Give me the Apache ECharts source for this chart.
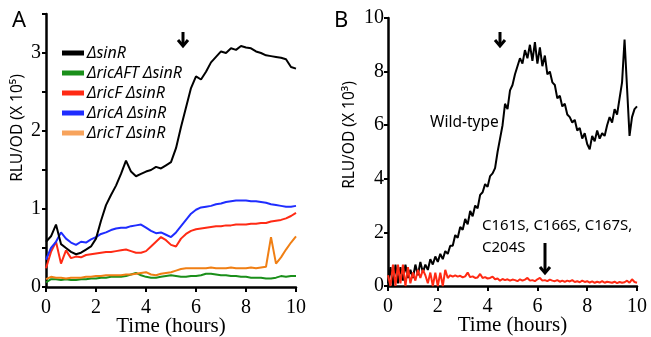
<!DOCTYPE html>
<html>
<head>
<meta charset="utf-8">
<script src="https://cdn.jsdelivr.net/npm/echarts@6/dist/echarts.min.js"></script>
<style>
  html, body { margin: 0; padding: 0; background: #fff; }
  #main { width: 651px; height: 337px; }
</style>
</head>
<body>
<div id="main"></div>
<script>
// Panel A: time (hours), sampled every 0.2 h
var timesA = [0, 0.2, 0.4, 0.6, 0.8, 1.0, 1.2, 1.4, 1.6, 1.8, 2.0, 2.2, 2.4, 2.6, 2.8, 3.0, 3.2, 3.4, 3.6, 3.8,
  4.0, 4.2, 4.4, 4.6, 4.8, 5.0, 5.2, 5.4, 5.6, 5.8, 6.0, 6.2, 6.4, 6.6, 6.8, 7.0, 7.2, 7.4, 7.6, 7.8,
  8.0, 8.2, 8.4, 8.6, 8.8, 9.0, 9.2, 9.4, 9.6, 9.8, 10];

var sinR = [0.58, 0.65, 0.80, 0.55, 0.50, 0.45, 0.42, 0.44, 0.48, 0.52, 0.62, 0.85, 1.05, 1.18, 1.30, 1.45, 1.62, 1.48, 1.42, 1.45,
  1.48, 1.50, 1.54, 1.52, 1.56, 1.60, 1.78, 2.05, 2.30, 2.55, 2.70, 2.66, 2.76, 2.88, 2.95, 3.02, 3.00, 3.06, 3.04, 3.09,
  3.07, 3.06, 3.02, 3.00, 2.97, 2.96, 2.95, 2.94, 2.92, 2.82, 2.80];
var ricAFT = [0.06, 0.10, 0.10, 0.09, 0.10, 0.09, 0.09, 0.10, 0.10, 0.11, 0.11, 0.12, 0.12, 0.13, 0.13, 0.13, 0.14, 0.16, 0.18, 0.15,
  0.13, 0.12, 0.12, 0.13, 0.14, 0.15, 0.14, 0.13, 0.13, 0.14, 0.14, 0.15, 0.17, 0.17, 0.16, 0.15, 0.15, 0.14, 0.14, 0.13,
  0.13, 0.12, 0.12, 0.12, 0.11, 0.11, 0.12, 0.14, 0.13, 0.14, 0.14];
var ricF = [0.24, 0.45, 0.58, 0.30, 0.47, 0.37, 0.39, 0.38, 0.41, 0.42, 0.43, 0.44, 0.45, 0.45, 0.46, 0.47, 0.48, 0.46, 0.44, 0.44,
  0.46, 0.52, 0.58, 0.64, 0.60, 0.54, 0.52, 0.62, 0.68, 0.72, 0.74, 0.75, 0.76, 0.77, 0.78, 0.78, 0.79, 0.79, 0.80, 0.80,
  0.80, 0.81, 0.81, 0.82, 0.82, 0.84, 0.85, 0.86, 0.88, 0.91, 0.95];
var ricA = [0.35, 0.50, 0.58, 0.70, 0.62, 0.57, 0.54, 0.58, 0.57, 0.61, 0.64, 0.68, 0.70, 0.73, 0.75, 0.76, 0.76, 0.78, 0.79, 0.80,
  0.76, 0.72, 0.69, 0.70, 0.67, 0.64, 0.70, 0.78, 0.86, 0.94, 0.99, 1.02, 1.03, 1.04, 1.06, 1.07, 1.09, 1.10, 1.11, 1.11,
  1.11, 1.10, 1.10, 1.09, 1.08, 1.06, 1.05, 1.04, 1.03, 1.03, 1.04];
var ricT = [0.10, 0.13, 0.12, 0.12, 0.11, 0.12, 0.12, 0.12, 0.13, 0.13, 0.14, 0.14, 0.15, 0.15, 0.15, 0.15, 0.16, 0.16, 0.17, 0.18,
  0.19, 0.16, 0.15, 0.17, 0.18, 0.19, 0.21, 0.23, 0.24, 0.24, 0.24, 0.24, 0.24, 0.25, 0.24, 0.24, 0.24, 0.25, 0.24, 0.24,
  0.24, 0.25, 0.24, 0.25, 0.26, 0.64, 0.30, 0.38, 0.48, 0.57, 0.65];

// Panel B: time (hours), sampled every 0.1 h
var timesB = [0, 0.1, 0.2, 0.3, 0.4, 0.5, 0.6, 0.7, 0.8, 0.9, 1.0, 1.1, 1.2, 1.3, 1.4, 1.5, 1.6, 1.7, 1.8, 1.9,
  2.0, 2.1, 2.2, 2.3, 2.4, 2.5, 2.6, 2.7, 2.8, 2.9, 3.0, 3.1, 3.2, 3.3, 3.4, 3.5, 3.6, 3.7, 3.8, 3.9,
  4.0, 4.1, 4.2, 4.3, 4.4, 4.5, 4.6, 4.7, 4.8, 4.9, 5.0, 5.1, 5.2, 5.3, 5.4, 5.5, 5.6, 5.7, 5.8, 5.9,
  6.0, 6.1, 6.2, 6.3, 6.4, 6.5, 6.6, 6.7, 6.8, 6.9, 7.0, 7.1, 7.2, 7.3, 7.4, 7.5, 7.6, 7.7, 7.8, 7.9,
  8.0, 8.1, 8.2, 8.3, 8.4, 8.5, 8.6, 8.7, 8.8, 8.9, 9.0, 9.1, 9.2, 9.3, 9.4, 9.5, 9.6, 9.7, 9.8, 9.9, 10];

var wildType = [0.1, 0.7, 0.0, 0.8, 0.1, 0.7, 0.2, 0.8, 0.3, 0.6, 0.3, 0.8, 0.4, 0.9, 0.5, 0.8, 0.6, 1.0, 0.8, 1.1,
  0.9, 1.2, 1.0, 1.3, 1.2, 1.5, 1.5, 1.9, 1.8, 2.2, 2.1, 2.5, 2.3, 2.8, 2.6, 3.0, 2.9, 3.4, 3.5, 3.8,
  3.7, 4.1, 4.2, 4.4, 5.0, 5.5, 6.0, 6.8, 6.6, 7.3, 7.5, 7.9, 8.2, 8.5, 8.3, 8.8, 8.5, 9.0, 8.4, 9.1,
  8.3, 8.9, 8.2, 8.6, 7.9, 8.0, 7.6, 7.5, 7.0, 7.1, 6.7, 6.8, 6.4, 6.3, 6.1, 6.2, 5.8, 5.9, 5.5, 5.7,
  5.3, 5.1, 5.6, 5.4, 5.8, 5.5, 5.7, 5.6, 6.0, 6.3, 6.1, 6.6, 6.4, 7.0, 7.6, 9.2, 7.4, 5.6, 6.3, 6.6, 6.7];
var mutant = [0.4, 0.0, 0.8, 0.0, 0.8, 0.1, 0.8, 0.0, 0.7, 0.1, 0.5, 0.2, 0.6, 0.3, 0.6, 0.4, 0.1, 0.5, 0.0, 0.5,
  0.0, 0.5, 0.0, 0.6, 0.3, 0.4, 0.35, 0.4, 0.35, 0.38, 0.32, 0.36, 0.5, 0.33, 0.36, 0.3, 0.32, 0.45, 0.3, 0.33,
  0.28, 0.3, 0.35, 0.25, 0.28, 0.2, 0.26, 0.22, 0.25, 0.2, 0.24, 0.22, 0.18, 0.25, 0.2, 0.24, 0.3, 0.2, 0.22, 0.18,
  0.25, 0.3, 0.2, 0.22, 0.18, 0.24, 0.2, 0.18, 0.22, 0.16, 0.2, 0.15, 0.2, 0.17, 0.22, 0.15, 0.18, 0.14, 0.2, 0.15,
  0.18, 0.13, 0.17, 0.12, 0.16, 0.13, 0.18, 0.12, 0.16, 0.14, 0.12, 0.16, 0.11, 0.15, 0.12, 0.14, 0.2, 0.12, 0.25, 0.15, 0.12];

var yLabelsA = [0, 1, 2, 3];
var yTicksA = [0, 0.5, 1, 1.5, 2, 2.5, 3, 3.5];

function pairs(xs, ys) {
    return xs.map(function (x, i) { return [x, ys[i]]; });
}

var serif = 'Liberation Serif';
var sans = 'Noto Sans';

function xAxisFor(gridIndex) {
    return {
        type: 'value', gridIndex: gridIndex, min: 0, max: 10, interval: 2,
        name: 'Time (hours)', nameLocation: 'middle', nameGap: 29, nameMoveOverlap: false,
        nameTextStyle: {fontFamily: serif, fontSize: 21, color: '#000'},
        axisLine: {lineStyle: {color: '#000', width: 2.5}},
        axisTick: {length: 5, lineStyle: {color: '#000', width: 2}},
        axisLabel: {fontFamily: serif, fontSize: 20, color: '#000', margin: 11},
        splitLine: {show: false}
    };
}

function line(name, data, color, x, y) {
    return {
        name: name, type: 'line', xAxisIndex: x, yAxisIndex: y, data: data,
        showSymbol: false, animation: false, silent: true,
        lineStyle: {color: color, width: 2}, itemStyle: {color: color}
    };
}

function arrow(x, y1, y2) {
    return {
        type: 'group', children: [
            {type: 'line', shape: {x1: x, y1: y1, x2: x, y2: y2}, style: {stroke: '#000', lineWidth: 3}},
            {type: 'polyline', shape: {points: [[x - 5, y2 - 6], [x, y2], [x + 5, y2 - 6]]},
                style: {stroke: '#000', lineWidth: 3, fill: null}}
        ]
    };
}

function yTitle(text, x, y) {
    return {
        type: 'text', x: x, y: y, rotation: Math.PI / 2,
        style: {text: text, font: '15.5px "Noto Sans"', fill: '#000', align: 'center', verticalAlign: 'middle'}
    };
}

var legendColors = ['#000000', '#1a8f1a', '#ff2a14', '#1f2dff', '#f7a35c'];

var option = {
    backgroundColor: '#fff',
    animation: false,
    grid: [
        {left: 46, top: 14, width: 250, height: 273, outerBoundsMode: 'none'},
        {left: 388, top: 18, width: 249, height: 268, outerBoundsMode: 'none'}
    ],
    legend: {
        orient: 'vertical', left: 57, top: 40, itemWidth: 22, itemHeight: 5, itemGap: 4,
        icon: 'rect', selectedMode: false,
        textStyle: {fontFamily: sans, fontStyle: 'italic', fontSize: 16, color: '#000', padding: [0, 0, 0, -2]},
        data: ['ΔsinR', 'ΔricAFT ΔsinR', 'ΔricF ΔsinR', 'ΔricA ΔsinR', 'ΔricT ΔsinR'].map(function (n, i) {
            return {name: n, itemStyle: {color: legendColors[i]}};
        })
    },
    xAxis: [xAxisFor(0), xAxisFor(1)],
    yAxis: [
        {
            type: 'value', gridIndex: 0, min: 0, max: 3.5,
            axisLine: {show: true, lineStyle: {color: '#000', width: 2.5}},
            axisTick: {show: true, length: 4, customValues: yTicksA, lineStyle: {color: '#000', width: 2}},
            axisLabel: {fontFamily: serif, fontSize: 20, color: '#000', margin: 5, customValues: yLabelsA},
            splitLine: {show: false}
        },
        {
            type: 'value', gridIndex: 1, min: 0, max: 10, interval: 2,
            axisLine: {show: true, lineStyle: {color: '#000', width: 2.5}},
            axisTick: {show: true, length: 4, lineStyle: {color: '#000', width: 2}},
            axisLabel: {fontFamily: serif, fontSize: 20, color: '#000', margin: 4},
            splitLine: {show: false}
        }
    ],
    series: [
        line('ΔricAFT ΔsinR', pairs(timesA, ricAFT), '#1a8f1a', 0, 0),
        line('ΔricT ΔsinR', pairs(timesA, ricT), '#f07f14', 0, 0),
        line('ΔricF ΔsinR', pairs(timesA, ricF), '#ff2a14', 0, 0),
        line('ΔricA ΔsinR', pairs(timesA, ricA), '#1f2dff', 0, 0),
        line('ΔsinR', pairs(timesA, sinR), '#000000', 0, 0),
        line('Wild-type', pairs(timesB, wildType), '#000000', 1, 1),
        line('C161S, C166S, C167S, C204S', pairs(timesB, mutant), '#ff2a14', 1, 1)
    ],
    graphic: [
        {type: 'text', left: 12, top: 10, style: {text: 'A', font: '22px "Noto Sans"', fill: '#000'}},
        {type: 'text', left: 334, top: 10, style: {text: 'B', font: '22px "Noto Sans"', fill: '#000'}},
        yTitle('RLU/OD (X 10⁵)', 18, 128),
        yTitle('RLU/OD (X 10³)', 350, 135),
        {type: 'text', left: 430, top: 115, style: {text: 'Wild-type', font: '15.5px "Noto Sans"', fill: '#000'}},
        {type: 'text', left: 482, top: 218, style: {text: 'C161S, C166S, C167S,', font: '15px "Noto Sans"', fill: '#000'}},
        {type: 'text', left: 482, top: 240, style: {text: 'C204S', font: '15px "Noto Sans"', fill: '#000'}},
        arrow(183, 32, 46),
        arrow(500, 32, 46),
        arrow(545, 243, 273)
    ]
};

var myChart = echarts.init(document.getElementById('main'), null, {renderer: 'canvas'});
myChart.setOption(option);
</script>
</body>
</html>
